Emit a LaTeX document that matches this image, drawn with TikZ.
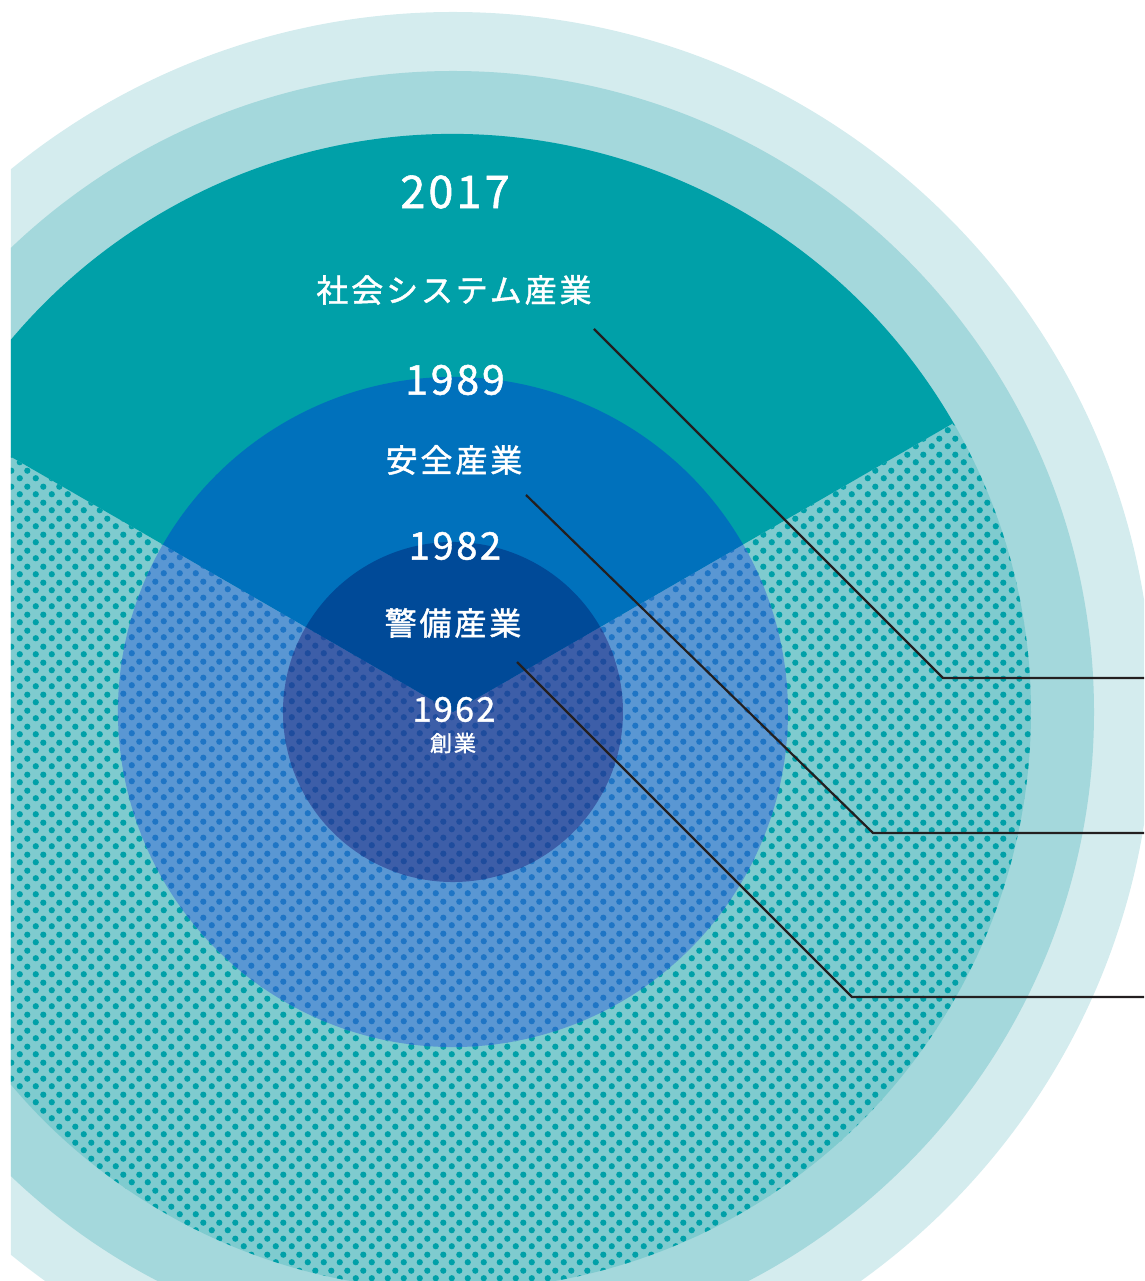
\documentclass[tikz,border=0pt]{standalone}
\usepackage{fontspec}
\setmainfont{Noto Sans CJK JP}
\newfontfamily\yearfont[LetterSpace=7,FakeBold=1.2]{Noto Sans CJK JP}
\newfontfamily\fieldfont[LetterSpace=9,FakeBold=1.4]{Noto Sans CJK JP}
\usetikzlibrary{patterns}
\pgfdeclarepatternformonly{hexdots}{\pgfpointorigin}{\pgfpoint{16pt}{16pt}}{\pgfpoint{16pt}{16pt}}{%
  \pgfpathcircle{\pgfpoint{4pt}{4pt}}{3.3pt}%
  \pgfpathcircle{\pgfpoint{12pt}{12pt}}{3.3pt}%
  \pgfusepath{fill}}
\definecolor{ringout}{HTML}{D4ECEE}
\definecolor{ringmid}{HTML}{A4D8DC}
\definecolor{tealsolid}{HTML}{00A0A8}
\definecolor{tealbase}{HTML}{7FCBCF}
\definecolor{tealdot}{HTML}{00A0A8}
\definecolor{bluesolid}{HTML}{0071BC}
\definecolor{bluebase}{HTML}{5A97D3}
\definecolor{bluedot}{HTML}{1F75C5}
\definecolor{darksolid}{HTML}{004A98}
\definecolor{darkbase}{HTML}{3D5EA8}
\definecolor{darkdot}{HTML}{1E4C9D}
\definecolor{leadcol}{HTML}{231F20}
\tikzset{
  dotarea/.style 2 args={fill=#1,postaction={pattern=hexdots,pattern color=#2}},
  yearlabel/.style={text=white,inner sep=0pt,font=\yearfont\fontsize{#1}{#1}\selectfont},
  fieldlabel/.style={text=white,inner sep=0pt,font=\fieldfont\fontsize{#1}{#1}\selectfont},
  leader/.style={draw=leadcol,line width=2.2pt}
}
\begin{document}
\begin{tikzpicture}[x=1pt,y=1pt,line cap=butt,line join=miter]
	\useasboundingbox (-453,-569) rectangle (691,712);
	\clip (-442,-569) rectangle (691,712);
	\fill[ringout] (0,0) circle (700pt);
	\fill[ringmid] (0,0) circle (641pt);
	\fill[dotarea={tealbase}{tealdot}] (0,0) -- (150:578pt) arc[start angle=150,end angle=390,radius=578pt] -- cycle;
	\fill[tealsolid] (0,0) -- (30:578pt) arc[start angle=30,end angle=150,radius=578pt] -- cycle;
	\fill[dotarea={bluebase}{bluedot}] (0,0) -- (150:335pt) arc[start angle=150,end angle=390,radius=335pt] -- cycle;
	\fill[bluesolid] (0,0) -- (30:335pt) arc[start angle=30,end angle=150,radius=335pt] -- cycle;
	\fill[dotarea={darkbase}{darkdot}] (0,0) -- (150:170pt) arc[start angle=150,end angle=390,radius=170pt] -- cycle;
	\fill[darksolid] (0,0) -- (30:170pt) arc[start angle=30,end angle=150,radius=170pt] -- cycle;
	\node[yearlabel=45] (y2017) at (2,520) {2017};
	\node[fieldlabel=32] (social) at (1,422) {社会システム産業};
	\node[yearlabel=41] (y1989) at (2,332) {1989};
	\node[fieldlabel=32] (safety) at (1,252) {安全産業};
	\node[yearlabel=38] (y1982) at (2,166) {1982};
	\node[fieldlabel=32] (guard) at (0,89) {警備産業};
	\node[yearlabel=34] (y1962) at (1,2.5) {1962};
	\node[fieldlabel=22] (found) at (0,-31) {創業};
	\coordinate (social-a) at (141,383);
	\coordinate (social-b) at (490,34);
	\coordinate (social-c) at (691,34);
	\coordinate (safety-a) at (73,217);
	\coordinate (safety-b) at (420,-121);
	\coordinate (safety-c) at (691,-121);
	\coordinate (guard-a) at (64,50);
	\coordinate (guard-b) at (399,-285);
	\coordinate (guard-c) at (691,-285);
	\draw[leader] (social-a) -- (social-b) -- (social-c);
	\draw[leader] (safety-a) -- (safety-b) -- (safety-c);
	\draw[leader] (guard-a) -- (guard-b) -- (guard-c);
\end{tikzpicture}
\end{document}
